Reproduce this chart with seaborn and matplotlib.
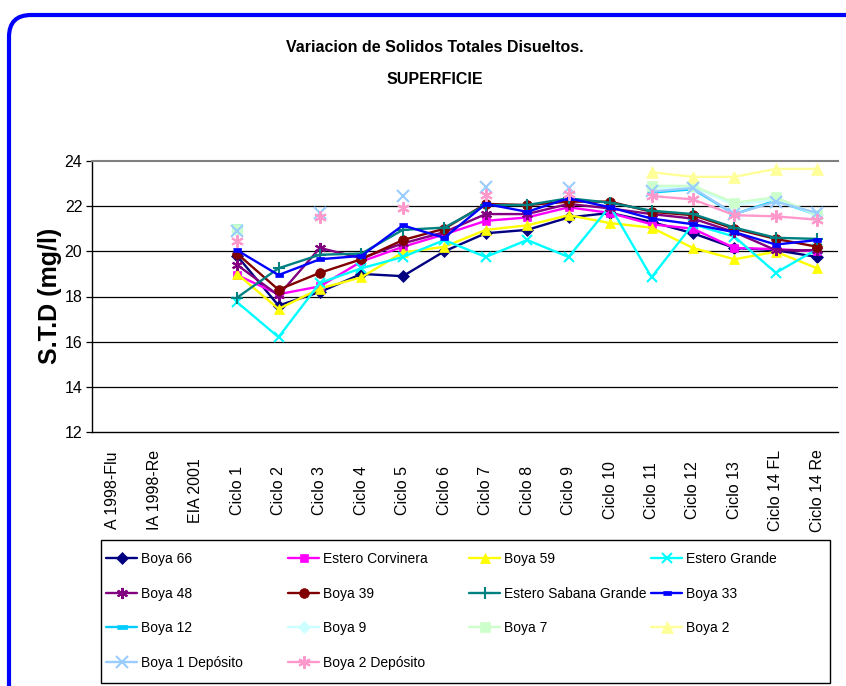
import matplotlib
matplotlib.use("Agg")
import matplotlib.pyplot as plt
from matplotlib import font_manager
from matplotlib.patches import FancyBboxPatch, Rectangle
from matplotlib.transforms import IdentityTransform
import numpy as np
import pandas as pd
import seaborn as sns

# ---------------- data ----------------
categories = ["A 1998-Flu", "IA 1998-Re", "EIA 2001", "Ciclo 1", "Ciclo 2", "Ciclo 3",
              "Ciclo 4", "Ciclo 5", "Ciclo 6", "Ciclo 7", "Ciclo 8", "Ciclo 9",
              "Ciclo 10", "Ciclo 11", "Ciclo 12", "Ciclo 13", "Ciclo 14 FL", "Ciclo 14 Re"]
N = None
boya_66 = [N, N, N, 19.8, 17.6, 18.2, 19.0, 18.9, 20.0, 20.8, 20.95, 21.5, 21.7, 21.3, 20.8, 20.15, 20.05, 19.75]
estero_corvinera = [N, N, N, 18.95, 18.1, 18.45, 19.55, 20.2, 20.75, 21.35, 21.5, 21.95, 21.7, 21.2, 21.0, 20.15, 20.1, 20.0]
boya_59 = [N, N, N, 19.0, 17.45, 18.35, 18.85, 19.95, 20.2, 20.95, 21.15, 21.6, 21.25, 21.05, 20.15, 19.65, 19.98, 19.25]
estero_grande = [N, N, N, 17.75, 16.2, 18.6, 19.25, 19.75, 20.5, 19.75, 20.5, 19.75, 22.0, 18.85, 21.2, 20.65, 19.05, 20.1]
boya_48 = [N, N, N, 19.4, 18.05, 20.15, 19.7, 20.35, 20.85, 21.65, 21.65, 22.1, 21.9, 21.65, 21.45, 20.85, 20.05, 20.05]
boya_39 = [N, N, N, 19.9, 18.3, 19.05, 19.65, 20.5, 21.0, 22.1, 22.05, 22.2, 22.2, 21.75, 21.6, 21.0, 20.55, 20.2]
estero_sabana_grande = [N, N, N, 17.95, 19.25, 19.85, 19.9, 20.95, 21.05, 22.05, 22.05, 22.35, 22.15, 21.8, 21.65, 21.05, 20.6, 20.55]
boya_33 = [N, N, N, 20.05, 18.95, 19.65, 19.8, 21.15, 20.6, 22.1, 21.75, 22.35, 21.95, 21.45, 21.2, 20.85, 20.3, 20.5]
boya_12 = [N, N, N, 21.1, N, N, N, N, N, N, N, N, N, 22.6, 22.75, 21.65, 22.25, 21.6]
boya_9 = [N, N, N, 20.9, N, N, N, N, N, N, N, N, N, 22.8, 22.85, 22.05, 22.3, 21.6]
boya_7 = [N, N, N, 21.0, N, N, N, N, N, N, N, N, N, 22.9, 22.9, 22.15, 22.4, 21.6]
boya_2 = [N, N, N, N, N, N, N, N, N, N, N, N, N, 23.5, 23.3, 23.3, 23.65, 23.65]
boya_1_deposito = [N, N, N, 20.9, N, 21.7, N, 22.45, N, 22.85, N, 22.8, N, 22.65, 22.8, 21.65, 22.2, 21.7]
boya_2_deposito = [N, N, N, 20.45, N, 21.5, N, 21.9, N, 22.5, N, 22.55, N, 22.45, 22.3, 21.6, 21.55, 21.4]

series_names = ["Boya 66", "Estero Corvinera", "Boya 59", "Estero Grande", "Boya 48",
                "Boya 39", "Estero Sabana Grande", "Boya 33", "Boya 12", "Boya 9",
                "Boya 7", "Boya 2", "Boya 1 Depósito", "Boya 2 Depósito"]
series_values = [boya_66, estero_corvinera, boya_59, estero_grande, boya_48, boya_39,
                 estero_sabana_grande, boya_33, boya_12, boya_9, boya_7, boya_2,
                 boya_1_deposito, boya_2_deposito]

# ---------------- styles ----------------
dash = [(-1, -0.45), (1, -0.45), (1, 0.45), (-1, 0.45)]
styles = [
    ("#000080", "D", 6),
    ("#FF00FF", "s", 6),
    ("#FFFF00", "^", 7.5),
    ("#00FFFF", "x", 7),
    ("#800080", (6, 2, 0), 8),
    ("#800000", "o", 7),
    ("#008080", "+", 8),
    ("#0000FF", dash, 6),
    ("#00CCFF", dash, 7),
    ("#CCFFFF", "D", 6),
    ("#CCFFCC", "s", 7),
    ("#FFFF99", "^", 8),
    ("#99CCFF", "x", 8),
    ("#FF99CC", (6, 2, 0), 9),
]

names = {f.name for f in font_manager.fontManager.ttflist}
narrow = "Liberation Sans Narrow" if "Liberation Sans Narrow" in names else "Liberation Sans"

sns.set_style("white")
plt.rcParams["font.family"] = [narrow, "DejaVu Sans"]
plt.rcParams["text.color"] = "black"
plt.rcParams["xtick.color"] = "black"
plt.rcParams["ytick.color"] = "black"

W, H = 846, 686
fig = plt.figure(figsize=(W / 100, H / 100), dpi=100)
fig.patch.set_facecolor("white")
ax = fig.add_axes([92 / W, 1 - 432 / H, 746 / W, 271 / H])

x_pos = np.arange(len(categories))
for z, (name, vals, (color, marker, ms)) in enumerate(zip(series_names, series_values, styles)):
    s = pd.Series([np.nan if v is None else v for v in vals], index=x_pos, dtype=float)
    seg = s.isna().cumsum()
    valid = s.notna()
    first = True
    for _, grp in s[valid].groupby(seg[valid]):
        unfilled = marker in ("x", "+") or isinstance(marker, tuple)
        sns.lineplot(x=grp.index.values, y=grp.values, ax=ax, color=color,
                     linewidth=1.7, marker=marker, markersize=ms,
                     markerfacecolor=color, markeredgecolor=color,
                     markeredgewidth=1.5 if unfilled else 0.5,
                     label=name if first else "_nolegend_", zorder=3 + z * 0.01,
                     legend=False)
        first = False

ax.set_xlim(-0.5, len(categories) - 0.5)
ax.set_ylim(12, 24)
ax.set_yticks(np.arange(12, 25, 2))
ax.set_yticklabels([str(v) for v in range(12, 25, 2)], fontsize=11.5, color="black")
ax.grid(False)
for yv in range(14, 24, 2):
    ax.axhline(yv, color="black", linewidth=0.9, zorder=1)

ax.set_xticks(x_pos)
ax.set_xticklabels(categories, rotation=90, fontsize=11.5, color="black")
for lbl in ax.get_xticklabels():
    lbl.set_va("center")
    lbl.set_ha("center")
ax.tick_params(axis="x", which="major", length=0, pad=42)
ax.set_xticks(np.arange(-0.5, len(categories), 1), minor=True)
ax.tick_params(axis="x", which="minor", length=5, width=0.9, color="black", direction="out")
ax.tick_params(axis="y", which="major", length=4, width=0.9, color="black", direction="out", pad=3, left=True)

for sp in ["left", "bottom"]:
    ax.spines[sp].set_color("black")
    ax.spines[sp].set_linewidth(1.0)
ax.spines["top"].set_color("#808080")
ax.spines["top"].set_linewidth(1.5)
ax.spines["right"].set_visible(False)
ax.set_xlabel("")
ax.set_ylabel("")

# Title and axis label
fig.text(435 / W, 1 - 47 / H, "Variacion de Solidos Totales Disueltos.",
         ha="center", va="center", fontsize=11.5, weight="bold")
fig.text(435 / W, 1 - 80 / H, "SUPERFICIE", ha="center", va="center",
         fontsize=11.5, weight="bold")
fig.text(50 / W, 1 - 296 / H, "S.T.D (mg/l)", rotation=90, ha="center", va="center",
         fontsize=18, weight="bold", family=["Liberation Sans", "DejaVu Sans"])

# Legend: four evenly spaced columns, filled row by row, inside one frame
handles, labels = ax.get_legend_handles_labels()
col_x = [106, 288, 469, 651]
for c in range(4):
    idx = [i for i in range(c, len(handles), 4)]
    fig.legend([handles[i] for i in idx], [labels[i] for i in idx],
               loc="upper left", bbox_to_anchor=(col_x[c] / W, 1 - 552 / H),
               frameon=False, borderpad=0, borderaxespad=0, fontsize=10,
               handlelength=2.25, handletextpad=0.3, labelspacing=1.48)
fig.patches.append(Rectangle((101, H - 683), 729, 143, transform=IdentityTransform(),
                             facecolor="none", edgecolor="black", linewidth=1.0))

# Rounded blue chart-area frame (only top and left edges visible)
frame = FancyBboxPatch((9, -80), 950, H - 15 + 80,
                       boxstyle="round,pad=0,rounding_size=22",
                       transform=IdentityTransform(), facecolor="none",
                       edgecolor="#0000FF", linewidth=3)
fig.patches.append(frame)

fig.savefig("out.png", dpi=100, facecolor="white")
